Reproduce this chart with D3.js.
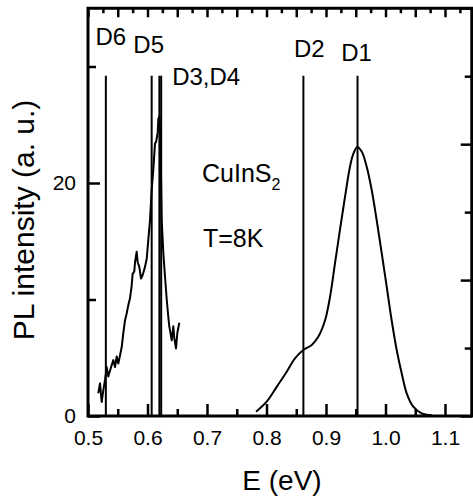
<!DOCTYPE html>
<html>
<head>
<meta charset="utf-8">
<script src="https://cdn.jsdelivr.net/npm/d3@7"></script>
<style>
  body { margin: 0; background: #fff; }
  svg { display: block; font-family: "Liberation Sans", Arial, sans-serif; }
</style>
</head>
<body>
<svg width="473" height="496"></svg>
<script>
// low energy band (noisy trace), E in eV
var lowE = [0.5173, 0.5202, 0.523, 0.5257, 0.5286, 0.5314, 0.5341, 0.537, 0.5425, 0.5454,
  0.5482, 0.5509, 0.5538, 0.5566, 0.5593, 0.5622, 0.565, 0.5677, 0.5706, 0.5734,
  0.575, 0.5778, 0.579, 0.5818, 0.5835, 0.5862, 0.5891, 0.5919, 0.5958, 0.5987,
  0.6013, 0.6042, 0.607, 0.6097, 0.6126, 0.6143, 0.6171, 0.6182, 0.6198, 0.6215,
  0.6239, 0.6266, 0.6294, 0.6323, 0.635, 0.6366, 0.639, 0.6407, 0.6434, 0.645,
  0.6479, 0.6501, 0.6534];
var lowI = [1.95, 2.8, 1.2, 2.2, 3.1, 4.2, 3.4, 3.9, 4.8, 4.2,
  5.1, 4.5, 5.2, 5.9, 7.1, 8.2, 8.8, 9.5, 10.1, 11.2,
  12.2, 12.4, 13.2, 14.1, 13.2, 12.8, 11.8, 12.1, 12.8, 13.5,
  15.1, 16.8, 19.4, 21.1, 23.4, 23.5, 24.3, 25.5, 25.7, 24.5,
  16.8, 14, 12, 10, 8.5, 7.7, 7.0, 6.5, 7.7, 6.7,
  5.8, 7.1, 8.0];

// main band around 0.95 eV
var mainE = [0.7824, 0.8003, 0.8171, 0.834, 0.8479, 0.8619, 0.876, 0.887, 0.8983, 0.9067,
  0.9151, 0.9235, 0.9319, 0.9403, 0.9459, 0.9526, 0.96, 0.9684, 0.9768, 0.9852,
  0.9936, 1.002, 1.0104, 1.0188, 1.0272, 1.0356, 1.0467, 1.0608, 1.0776];
var mainI = [0.37, 1.23, 2.5, 3.8, 4.95, 5.67, 6.1, 6.8, 8.2, 10.2,
  13.1, 16.0, 18.8, 21.4, 22.5, 23.1, 22.7, 21.4, 19.4, 16.8,
  14.0, 11.1, 8.2, 5.67, 3.67, 1.95, 0.8, 0.23, 0.08];

// defect transitions
var lineNames = ["D6", "D5", "D3", "D4", "D2", "D1"];
var lineE = [0.53, 0.607, 0.620, 0.623, 0.862, 0.953];
var lineTop = 29.2;

var xMajor = [0.5, 0.6, 0.7, 0.8, 0.9, 1.0, 1.1];
var xMinor = [0.55, 0.65, 0.75, 0.85, 0.95, 1.05];
var yMajor = [0, 20];
var yMinor = [10, 30];

var margin = {top: 8, right: 1, bottom: 80, left: 88},
    width = 473 - margin.left - margin.right,
    height = 496 - margin.top - margin.bottom;

var svg = d3.select("svg")
  .append("g")
  .attr("transform", "translate(" + margin.left + "," + margin.top + ")");

var x = d3.scaleLinear().domain([0.5, 1.145]).range([0, 595 * 0.645]);
var y = d3.scaleLinear().domain([0, 35]).range([height, height - 35 * 11.65]);
var yR = d3.scaleLinear().domain([0, 3]).range(y.range());

var W = x.range()[1];

// axes, ticks pointing inward
function styleAxis(g) {
  g.select(".domain").remove();
  g.selectAll(".tick line").attr("stroke", "#000").attr("stroke-width", 2.5);
  g.selectAll("text").attr("fill", "#000").style("font-size", "21px");
}

svg.append("g").attr("transform", "translate(0," + height + ")")
  .call(d3.axisBottom(x).tickValues(xMajor).tickSize(-12).tickPadding(14).tickFormat(d3.format(".1f")))
  .call(styleAxis);
svg.append("g").attr("transform", "translate(0," + height + ")")
  .call(d3.axisBottom(x).tickValues(xMinor).tickSize(-7).tickFormat(""))
  .call(styleAxis);

var topLong = d3.range(0.5, 1.1251, 0.05), topShort = d3.range(0.525, 1.14, 0.05);
svg.append("g").attr("transform", "translate(0," + y(35) + ")")
  .call(d3.axisTop(x).tickValues(topLong).tickSize(-9).tickFormat(""))
  .call(styleAxis);
svg.append("g").attr("transform", "translate(0," + y(35) + ")")
  .call(d3.axisTop(x).tickValues(topShort).tickSize(-5).tickFormat(""))
  .call(styleAxis);

svg.append("g")
  .call(d3.axisLeft(y).tickValues(yMajor).tickSize(-12).tickPadding(12))
  .call(styleAxis);
svg.append("g")
  .call(d3.axisLeft(y).tickValues(yMinor).tickSize(-8).tickFormat(""))
  .call(styleAxis);

svg.append("g").attr("transform", "translate(" + W + ",0)")
  .call(d3.axisRight(yR).tickValues([0, 1, 2, 3]).tickSize(-11).tickFormat(""))
  .call(styleAxis);
svg.append("g").attr("transform", "translate(" + W + ",0)")
  .call(d3.axisRight(yR).tickValues([0.5, 1.5, 2.5]).tickSize(-7).tickFormat(""))
  .call(styleAxis);

// frame
svg.append("rect")
  .attr("x", 0).attr("y", y(35))
  .attr("width", W).attr("height", height - y(35))
  .attr("fill", "none").attr("stroke", "#000").attr("stroke-width", 3);

// vertical markers
svg.selectAll(".dline")
  .data(lineE)
  .join("line")
  .attr("x1", d => x(d)).attr("x2", d => x(d))
  .attr("y1", y(0)).attr("y2", y(lineTop))
  .attr("stroke", "#000").attr("stroke-width", 2);

// spectra
svg.append("path")
  .datum(d3.zip(lowE, lowI))
  .attr("fill", "none").attr("stroke", "#000").attr("stroke-width", 2)
  .attr("stroke-linejoin", "round")
  .attr("d", d3.line().x(d => x(d[0])).y(d => y(d[1])));

svg.append("path")
  .datum(d3.zip(mainE, mainI))
  .attr("fill", "none").attr("stroke", "#000").attr("stroke-width", 2)
  .attr("d", d3.line().curve(d3.curveCatmullRom).x(d => x(d[0])).y(d => y(d[1])));

// labels for the markers
var labels = [
  {text: "D6", e: lineE[0], dx: 5, anchor: "middle", yy: 45},
  {text: "D5", e: lineE[1], dx: -3, anchor: "middle", yy: 53},
  {text: "D3,D4", e: lineE[3], dx: 11, anchor: "start", yy: 85},
  {text: "D2", e: lineE[4], dx: 6, anchor: "middle", yy: 57},
  {text: "D1", e: lineE[5], dx: -1, anchor: "middle", yy: 61}
];
svg.selectAll(".dlab")
  .data(labels)
  .join("text")
  .attr("x", d => x(d.e) + d.dx)
  .attr("y", d => d.yy - margin.top)
  .attr("text-anchor", d => d.anchor)
  .style("font-size", "24px")
  .text(d => d.text);

var t1 = svg.append("text")
  .attr("x", 202 - margin.left).attr("y", 182 - margin.top)
  .style("font-size", "25px")
  .text("CuInS");
t1.append("tspan").attr("dy", 8).style("font-size", "16px").text("2");

svg.append("text")
  .attr("x", 203 - margin.left).attr("y", 247 - margin.top)
  .style("font-size", "25px")
  .text("T=8K");

// axis titles
svg.append("text")
  .attr("transform", "translate(" + (34 - margin.left) + "," + (220 - margin.top) + ") rotate(-90)")
  .attr("text-anchor", "middle")
  .style("font-size", "30px")
  .text("PL intensity (a. u.)");

svg.append("text")
  .attr("x", 282 - margin.left).attr("y", 490 - margin.top)
  .attr("text-anchor", "middle")
  .style("font-size", "28px")
  .text("E (eV)");
</script>
</body>
</html>
